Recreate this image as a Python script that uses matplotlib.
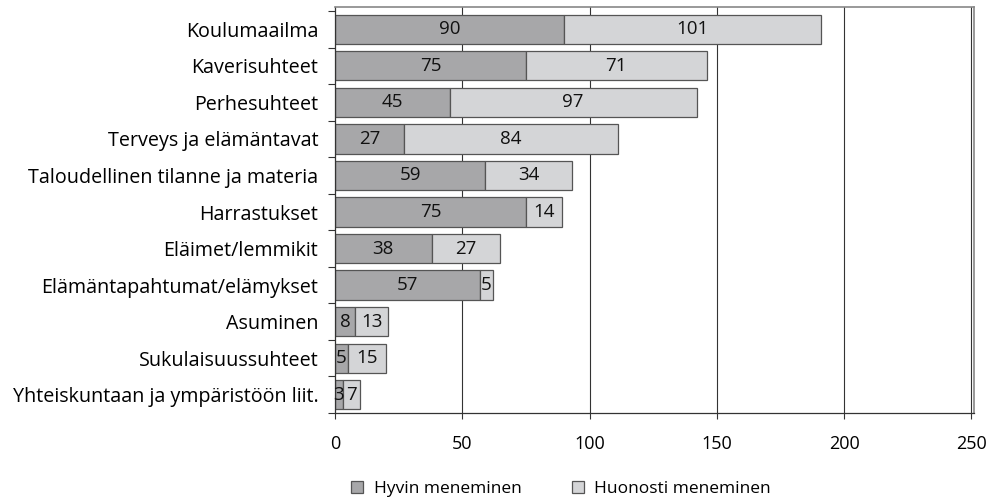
import matplotlib.pyplot as plt
import numpy as np

plt.rcParams['font.family'] = ['Open Sans', 'DejaVu Sans']

aiheet = ["Koulumaailma", "Kaverisuhteet", "Perhesuhteet", "Terveys ja elämäntavat",
          "Taloudellinen tilanne ja materia", "Harrastukset", "Eläimet/lemmikit",
          "Elämäntapahtumat/elämykset", "Asuminen", "Sukulaisuussuhteet",
          "Yhteiskuntaan ja ympäristöön liit."]
hyvin = [90, 75, 45, 27, 59, 75, 38, 57, 8, 5, 3]
huonosti = [101, 71, 97, 84, 34, 14, 27, 5, 13, 15, 7]
xticks = [0, 50, 100, 150, 200, 250]

fig = plt.figure(figsize=(9.91, 5.04), dpi=100)
ax = fig.add_axes([335 / 991, 1 - 413 / 504, 639 / 991, 406 / 504])

y = np.arange(len(aiheet))
ax.set_axisbelow(True)
for x in xticks[1:]:
    ax.axvline(x, color='#333333', linewidth=0.8, zorder=0)

b1 = ax.barh(y, hyvin, height=0.8, color='#a7a7a9', edgecolor='#555555',
             linewidth=0.9, label='Hyvin meneminen')
b2 = ax.barh(y, huonosti, left=hyvin, height=0.8, color='#d4d5d7',
             edgecolor='#555555', linewidth=0.9, label='Huonosti meneminen')

# arvot segmenttien keskelle
for i in range(len(aiheet)):
    ax.text(hyvin[i] / 2, y[i], str(hyvin[i]), ha='center', va='center',
            fontsize=13.5, color='#111111')
    ax.text(hyvin[i] + huonosti[i] / 2, y[i], str(huonosti[i]), ha='center',
            va='center', fontsize=13.5, color='#111111')

ax.set_xlim(0, 251)
ax.set_ylim(len(aiheet) - 0.5, -0.61)
ax.set_xticks(xticks)
ax.set_xticklabels([str(t) for t in xticks], fontsize=13)
ax.tick_params(axis='x', length=4, width=0.8, pad=12, color='#333333')

ax.set_yticks(y)
ax.set_yticklabels(aiheet, fontsize=14.2)
ax.tick_params(axis='y', length=0, pad=12)
ax.set_yticks(np.arange(len(aiheet) + 1) - 0.5, minor=True)
ax.tick_params(axis='y', which='minor', length=5, width=0.8, color='#333333')

for s in ['left', 'bottom']:
    ax.spines[s].set_color('#333333')
    ax.spines[s].set_linewidth(0.9)
for s in ['top', 'right']:
    ax.spines[s].set_color('#888888')
    ax.spines[s].set_linewidth(1.2)

fig.legend(handles=[b1, b2], loc='lower center', bbox_to_anchor=(0.566, -0.018),
           ncol=2, frameon=False, fontsize=12.5, handlelength=0.7, handleheight=0.7,
           columnspacing=2.9, handletextpad=0.6)

fig.savefig('out.png', dpi=100)
